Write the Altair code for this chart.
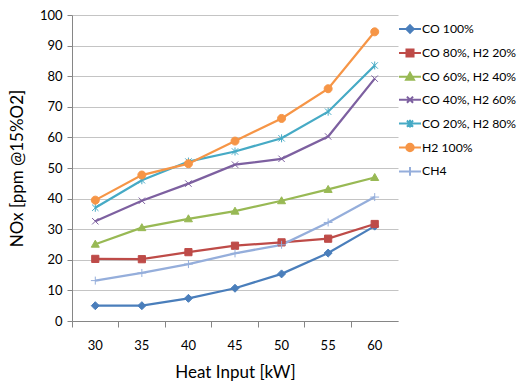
import altair as alt
import pandas as pd

heat_input = ["30", "35", "40", "45", "50", "55", "60"]
series_names = ["CO 100%", "CO 80%, H2 20%", "CO 60%, H2 40%", "CO 40%, H2 60%",
                "CO 20%, H2 80%", "H2 100%", "CH4"]
co100 = [5.0, 5.0, 7.4, 10.7, 15.4, 22.2, 31.0]
co80_h20 = [20.3, 20.2, 22.5, 24.6, 25.7, 26.9, 31.7]
co60_h40 = [25.1, 30.5, 33.4, 35.9, 39.3, 43.0, 46.9]
co40_h60 = [32.6, 39.3, 44.9, 51.1, 53.0, 60.3, 79.2]
co20_h80 = [37.0, 46.0, 52.1, 55.4, 59.7, 68.4, 83.5]
h2_100 = [39.5, 47.7, 51.4, 58.8, 66.2, 75.9, 94.5]
ch4 = [13.2, 15.7, 18.6, 22.1, 24.9, 32.2, 40.5]

all_values = [co100, co80_h20, co60_h40, co40_h60, co20_h80, h2_100, ch4]
colors = ["#4A7EBB", "#BE4B48", "#98B954", "#7D60A0", "#46AAC5", "#F69546", "#95AEDB"]

marker_paths = [
    "M-1,0L0,-1L1,0L0,1Z",
    "M-0.9,-0.9H0.9V0.9H-0.9Z",
    "M0,-1L1,0.75H-1Z",
    "M-0.8,-0.8L0.8,0.8M-0.8,0.8L0.8,-0.8",
    "M-0.8,-0.8L0.8,0.8M-0.8,0.8L0.8,-0.8M0,-1V1",
    "M1,0A1,1,0,1,1,-1,0A1,1,0,1,1,1,0Z",
    "M-1.1,0H1.1M0,-1V1",
]
legend_paths = [
    "M-1,0H1M-0.34,0L0,-0.34L0.34,0L0,0.34Z",
    "M-1,0H1M-0.32,-0.32H0.32V0.32H-0.32Z",
    "M-1,0H1M0,-0.36L0.36,0.27H-0.36Z",
    "M-1,0H1M-0.28,-0.28L0.28,0.28M-0.28,0.28L0.28,-0.28",
    "M-1,0H1M-0.28,-0.28L0.28,0.28M-0.28,0.28L0.28,-0.28M0,-0.36V0.36",
    "M-1,0H1M0.34,0A0.34,0.34,0,1,1,-0.34,0A0.34,0.34,0,1,1,0.34,0Z",
    "M-1,0H1M0,-0.4V0.4",
]

rows = []
for name, vals in zip(series_names, all_values):
    for x, v in zip(heat_input, vals):
        rows.append({"kw": x, "nox": v, "series": name})
df = pd.DataFrame(rows)

FONT = "Lato"

x_enc = alt.X("kw:O", bandPosition=0.5, sort=heat_input,
              scale=alt.Scale(type="band", paddingInner=0, paddingOuter=0),
              axis=alt.Axis(title="Heat Input [kW]", labelAngle=0, bandPosition=0,
                            labelPadding=12, titlePadding=12, tickSize=6,
                            grid=False))
y_enc = alt.Y("nox:Q", scale=alt.Scale(domain=[0, 100], nice=False),
              axis=alt.Axis(title="NOx [ppm @15%O2]", values=list(range(0, 101, 10)),
                            tickSize=5, labelPadding=5, titlePadding=13,
                            grid=True))

col_scale = alt.Scale(domain=series_names, range=colors)

lines = alt.Chart(df).mark_line(strokeWidth=2.25).encode(
    x=x_enc, y=y_enc,
    color=alt.Color("series:N", scale=col_scale, legend=None),
    detail="series:N",
)

points = alt.Chart(df).mark_point(filled=True, size=64, opacity=1, strokeWidth=1).encode(
    x=x_enc, y=y_enc,
    fill=alt.Fill("series:N", scale=col_scale, legend=None),
    stroke=alt.Stroke("series:N", scale=col_scale, legend=None),
    shape=alt.Shape("series:N", scale=alt.Scale(domain=series_names, range=marker_paths),
                    legend=None),
)

leg = alt.Legend(title=None, orient="none", legendX=326, legendY=2,
                 symbolSize=484, symbolStrokeWidth=2, labelFontSize=12.2,
                 labelFont=FONT, labelColor="#000000", labelOffset=0,
                 rowPadding=3.9, padding=0, labelLimit=200)
legend_layer = alt.Chart(df).transform_filter("false").mark_point(
    filled=True, opacity=1).encode(
    x=x_enc, y=y_enc,
    fill=alt.Fill("series2:N", scale=alt.Scale(domain=series_names, range=colors), legend=leg),
    stroke=alt.Stroke("series2:N", scale=alt.Scale(domain=series_names, range=colors), legend=leg),
    shape=alt.Shape("series2:N", scale=alt.Scale(domain=series_names, range=legend_paths), legend=leg),
).transform_calculate(series2="datum.series")

chart = alt.layer(lines, points, legend_layer).resolve_scale(
    color="independent", fill="independent", stroke="independent", shape="independent"
).properties(
    width=326, height=306,
    autosize=alt.AutoSizeParams(type="none"),
    padding={"left": 72, "top": 15, "right": 122, "bottom": 68},
).configure_view(stroke=None).configure_axis(
    labelFont=FONT, titleFont=FONT, labelFontSize=13, titleFontSize=17,
    titleFontWeight="normal", labelColor="#000000", titleColor="#000000",
    domainColor="#868686", tickColor="#868686", gridColor="#C4C4C4",
    domainWidth=1, tickWidth=1,
)

chart.save("out.html", embed_options={"renderer": "svg", "actions": False})
